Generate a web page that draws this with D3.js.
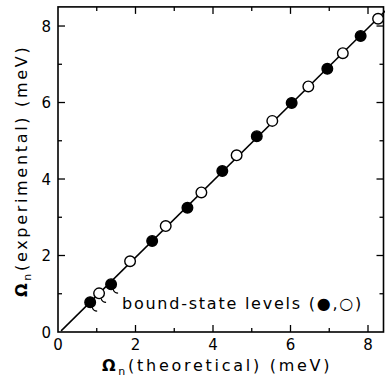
<!DOCTYPE html>
<html><head><meta charset="utf-8">
<script src="https://cdn.jsdelivr.net/npm/d3@7"></script>
<style>body{margin:0;background:#fff}svg{display:block}</style>
</head><body>
<svg id="c" width="385" height="383"></svg>
<script>
// data
const theoretical = [0.83, 1.06, 1.37, 1.86, 2.43, 2.78, 3.34, 3.70, 4.24, 4.61, 5.13, 5.53, 6.03, 6.46, 6.95, 7.35, 7.81, 8.26];
const experimental = [0.78, 1.01, 1.25, 1.85, 2.38, 2.77, 3.25, 3.65, 4.21, 4.62, 5.12, 5.52, 5.99, 6.42, 6.88, 7.29, 7.74, 8.19];
const filled = [true, false, true, false, true, false, true, false, true, false, true, false, true, false, true, false, true, false];
const tailed = [true, true, true, false, false, false, false, false, false, false, false, false, false, false, false, false, false, false];
const fitLine = [[0.08, 0.03], [8.45, 8.4]];
const majorTicks = [0, 2, 4, 6, 8];
const minorTicks = [1, 3, 5, 7];
const xTitle = "(theoretical)  (meV)";
const yTitle = "(experimental)  (meV)";
const legendText = "bound-state levels (●,○)";

const svg = d3.select("#c");
const x = d3.scaleLinear().domain([0, 8.4]).range([58, 383.5]);
const y = d3.scaleLinear().domain([0, 8.5]).range([332, 6.9]);
const font = "DejaVu Sans";

function fitWidth(sel, target) {
  const node = sel.node();
  const n = node.textContent.length;
  const w = node.getComputedTextLength();
  sel.attr("letter-spacing", (target - w) / n);
}

// frame
svg.append("rect").attr("x", x(0)).attr("y", y(8.5)).attr("width", x(8.4) - x(0)).attr("height", y(0) - y(8.5))
  .attr("fill", "none").attr("stroke", "#000").attr("stroke-width", 1.6);

const g = svg.append("g").attr("stroke", "#000").attr("stroke-width", 1.3);
const tickSets = [[majorTicks.filter(d => d > 0), 7], [minorTicks, 4]];
tickSets.forEach(([ticks, len]) => {
  ticks.forEach(t => {
    g.append("line").attr("x1", x(t)).attr("x2", x(t)).attr("y1", y(0)).attr("y2", y(0) - len);
    g.append("line").attr("x1", x(t)).attr("x2", x(t)).attr("y1", y(8.5)).attr("y2", y(8.5) + len);
    g.append("line").attr("y1", y(t)).attr("y2", y(t)).attr("x1", x(0)).attr("x2", x(0) + len);
    g.append("line").attr("y1", y(t)).attr("y2", y(t)).attr("x1", x(8.4)).attr("x2", x(8.4) - len);
  });
});

// tick labels
majorTicks.forEach(t => {
  svg.append("text").attr("x", x(t)).attr("y", y(0) + 18).attr("text-anchor", "middle")
    .attr("font-family", font).attr("font-size", 15).attr("font-weight", 500).text(t);
  svg.append("text").attr("x", x(0) - 7).attr("y", y(t) + 5.5).attr("text-anchor", "end")
    .attr("font-family", font).attr("font-size", 15).attr("font-weight", 500).text(t);
});

// titles
const xt = svg.append("text").attr("x", 102).attr("y", 371)
  .attr("font-family", font).attr("font-size", 16);
xt.append("tspan").attr("font-weight", "bold").text("Ω");
xt.append("tspan").attr("font-size", 11).attr("dy", 4).text("n");
xt.append("tspan").attr("dy", -4).text(xTitle);
fitWidth(xt, 233);

const yt = svg.append("text").attr("transform", "translate(27,297) rotate(-90)")
  .attr("font-family", font).attr("font-size", 16);
yt.append("tspan").attr("font-weight", "bold").text("Ω");
yt.append("tspan").attr("font-size", 11).attr("dy", 4).text("n");
yt.append("tspan").attr("dy", -4).text(yTitle);
fitWidth(yt, 255);

// line
svg.append("line").attr("x1", x(fitLine[0][0])).attr("y1", y(fitLine[0][1]))
  .attr("x2", x(fitLine[1][0])).attr("y2", y(fitLine[1][1])).attr("stroke", "#000").attr("stroke-width", 1.5);

// points
const pts = theoretical.map((d, i) => ({ x: d, y: experimental[i], f: filled[i], t: tailed[i] }));
svg.selectAll("path.tail").data(pts.filter(p => p.t)).join("path").attr("class", "tail")
  .attr("d", p => { const cx = x(p.x), cy = y(p.y); return `M${cx + 2},${cy + 5} Q${cx + 3},${cy + 9} ${cx + 7},${cy + 9}`; })
  .attr("fill", "none").attr("stroke", "#000").attr("stroke-width", 1.2);
svg.selectAll("circle.pt").data(pts).join("circle").attr("class", "pt")
  .attr("cx", p => x(p.x)).attr("cy", p => y(p.y)).attr("r", 5.3)
  .attr("fill", p => p.f ? "#000" : "#fff").attr("stroke", "#000").attr("stroke-width", 1.4);

// legend
const lg = svg.append("text").attr("x", 122).attr("y", 309).attr("font-family", font).attr("font-size", 16)
  .text(legendText);
fitWidth(lg, 241);
</script>
</body></html>
